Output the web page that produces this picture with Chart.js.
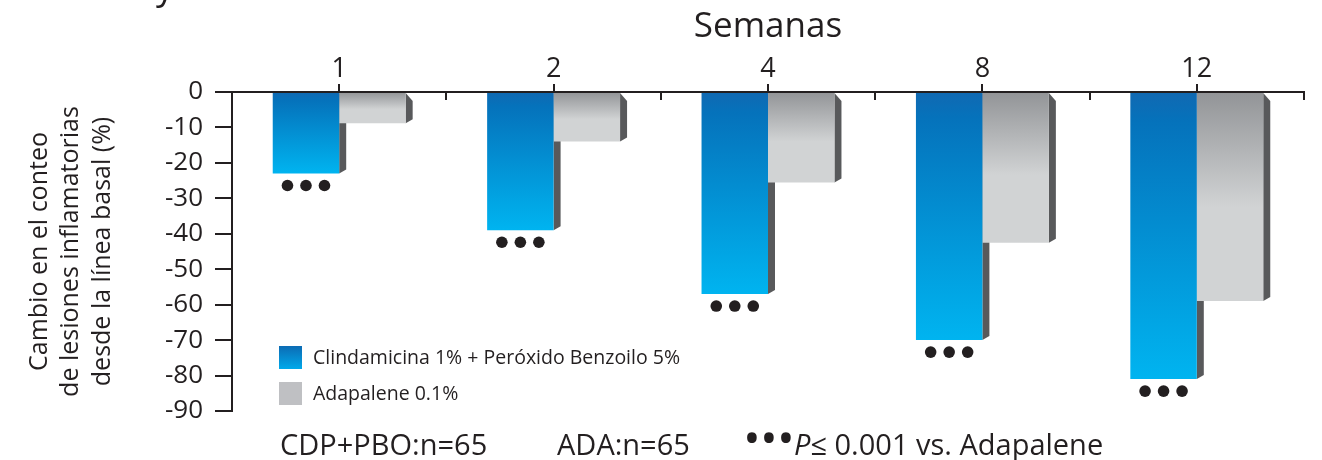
<!DOCTYPE html>
<html lang="es">
<head>
<meta charset="utf-8">
<title>Cambio en el conteo de lesiones inflamatorias</title>
<script src="https://cdn.jsdelivr.net/npm/chart.js@4.4.1/dist/chart.umd.min.js"></script>
<style>
  html, body { margin: 0; padding: 0; background: #ffffff; }
  #wrap { width: 1322px; height: 460px; }
</style>
</head>
<body>
<div id="wrap"><canvas id="chart" width="1322" height="460"></canvas></div>
<script>
// ---- data ----
const weeks = ['1', '2', '4', '8', '12'];
const clindaBpo = [-23, -39, -57, -70, -81];
const adapalene = [-8.8, -14, -25.5, -42.5, -59];
const sigDots = [3, 3, 3, 3, 3];           // ● markers under each CDP+PBO bar
const yMin = -90, yMax = 0, yStep = 10;
const seriesLabels = ['Clindamicina 1% + Peróxido Benzoilo 5%', 'Adapalene 0.1%'];
const xTitle = 'Semanas';
const yTitle = ['Cambio en el conteo', 'de lesiones inflamatorias', 'desde la línea basal (%)'];
const groupSizes = ['CDP+PBO:n=65', 'ADA:n=65'];
const pNote = ['P', '≤ 0.001 vs. Adapalene'];
const headFragment = 'y';

// ---- styling ----
const INK = '#231f20';
const FONT = "'Open Sans', sans-serif";
const SIDE = '#58595b';
const BLUE_STOPS = [[0, '#1169b2'], [0.1, '#0572bb'], [1, '#00b4f0']];
const GREY_STOPS = [[0, '#929497'], [0.55, '#d1d3d4'], [1, '#d1d3d4']];

function barGradient(c, stops) {
  const chart = c.chart;
  if (!chart.chartArea || c.type !== 'data') return stops[stops.length - 1][1];
  const y = chart.scales.y;
  const v = c.dataset.data[c.dataIndex];
  const g = chart.ctx.createLinearGradient(0, y.getPixelForValue(0), 0, y.getPixelForValue(v));
  stops.forEach(([o, col]) => g.addColorStop(o, col));
  return g;
}

// 3D side faces, drawn under the bars so the right-hand bar hides the part it covers
const barSides = {
  id: 'barSides',
  beforeDatasetsDraw(chart) {
    const ctx = chart.ctx;
    ctx.save();
    ctx.fillStyle = SIDE;
    chart.data.datasets.forEach((ds, i) => {
      chart.getDatasetMeta(i).data.forEach(bar => {
        const p = bar.getProps(['x', 'y', 'base', 'width'], true);
        const r = p.x + p.width / 2;
        const top = Math.min(p.y, p.base), bottom = Math.max(p.y, p.base);
        ctx.beginPath();
        ctx.moveTo(r, top);
        ctx.lineTo(r + 7, top + 8);
        ctx.lineTo(r + 7, bottom - 4);
        ctx.lineTo(r, bottom);
        ctx.closePath();
        ctx.fill();
      });
    });
    ctx.restore();
  }
};

// significance markers under the CDP+PBO bars
const sigMarks = {
  id: 'sigMarks',
  afterDatasetsDraw(chart) {
    const ctx = chart.ctx;
    ctx.save();
    ctx.fillStyle = INK;
    chart.getDatasetMeta(0).data.forEach((bar, i) => {
      const p = bar.getProps(['x', 'y'], true);
      const n = sigDots[i];
      for (let k = 0; k < n; k++) {
        const cx = p.x + (k - (n - 1) / 2) * 18.5;
        ctx.beginPath();
        ctx.arc(cx, p.y + 12, 5.8, 0, Math.PI * 2);
        ctx.fill();
      }
    });
    ctx.restore();
  }
};

// downward ticks between week groups on the top axis
const groupTicks = {
  id: 'groupTicks',
  afterDraw(chart) {
    const x = chart.scales.x, ctx = chart.ctx;
    const n = weeks.length, step = (x.right - x.left) / n;
    ctx.save();
    ctx.strokeStyle = INK;
    ctx.lineWidth = 2;
    for (let k = 1; k <= n; k++) {
      const px = Math.round(x.left + k * step);
      ctx.beginPath();
      ctx.moveTo(px, x.bottom);
      ctx.lineTo(px, x.bottom + 8);
      ctx.stroke();
    }
    ctx.restore();
  }
};

// legend box inside the plot, group sizes and p-value note along the bottom
const annotations = {
  id: 'annotations',
  afterDraw(chart) {
    const ctx = chart.ctx;
    ctx.save();
    // legend
    const sq = 23, lx = 279;
    const rows = [346, 382];
    const gb = ctx.createLinearGradient(0, rows[0], 0, rows[0] + sq);
    gb.addColorStop(0, '#0c6bb4'); gb.addColorStop(1, '#00a9ea');
    const fills = [gb, '#bfc0c3'];
    ctx.font = `19.5px ${FONT}`;
    ctx.textBaseline = 'middle';
    ctx.textAlign = 'left';
    rows.forEach((ry, i) => {
      ctx.fillStyle = fills[i];
      ctx.fillRect(lx, ry, sq, sq);
      ctx.fillStyle = INK;
      ctx.fillText(chart.data.datasets[i].label, 313, ry + sq / 2 + 1);
    });

    // bottom line
    const base = 455;
    ctx.textBaseline = 'alphabetic';
    ctx.fillStyle = INK;
    ctx.font = `29px ${FONT}`;
    ctx.fillText(groupSizes[0], 280, base);
    ctx.fillText(groupSizes[1], 557, base);
    ctx.font = `46px ${FONT}`;
    ctx.textAlign = 'center';
    [752, 769, 786].forEach(bx => ctx.fillText('•', bx, base - 1));
    ctx.textAlign = 'left';
    ctx.font = `italic 29px ${FONT}`;
    ctx.fillText(pNote[0], 794, base);
    const pw = ctx.measureText(pNote[0]).width;
    ctx.font = `29px ${FONT}`;
    ctx.fillText(pNote[1], 794 + pw, base);

    // tail of the heading line above the figure
    ctx.font = `36px ${FONT}`;
    ctx.fillText(headFragment, 156, -1);
    ctx.restore();
  }
};

new Chart(document.getElementById('chart'), {
  type: 'bar',
  data: {
    labels: weeks,
    datasets: [
      { label: seriesLabels[0], data: clindaBpo, backgroundColor: c => barGradient(c, BLUE_STOPS) },
      { label: seriesLabels[1], data: adapalene, backgroundColor: c => barGradient(c, GREY_STOPS) }
    ]
  },
  options: {
    responsive: false,
    animation: false,
    devicePixelRatio: 1,
    layout: { padding: { left: 0, top: 0, right: 18, bottom: 49 } },
    datasets: { bar: { categoryPercentage: 0.62, barPercentage: 1, borderWidth: 0 } },
    plugins: { legend: { display: false }, tooltip: { enabled: false }, title: { display: false } },
    scales: {
      x: {
        position: 'top',
        offset: true,
        z: 1,
        grid: { offset: false, drawOnChartArea: false, tickLength: 8, lineWidth: 2, color: INK },
        border: { display: true, color: INK, width: 2 },
        ticks: { color: INK, font: { family: FONT, size: 27, lineHeight: 1 }, padding: 1, maxRotation: 0 },
        title: { display: true, text: xTitle, color: INK, font: { family: FONT, size: 35, lineHeight: 1.2 }, padding: { top: 6, bottom: 0 } },
        afterFit: s => { s.height = 92; }
      },
      y: {
        min: yMin,
        max: yMax,
        z: 1,
        ticks: { stepSize: yStep, color: INK, font: { family: FONT, size: 26 }, padding: 12 },
        grid: { drawOnChartArea: false, tickLength: 17, lineWidth: 2, color: INK },
        border: { display: true, color: INK, width: 2 },
        title: { display: true, text: yTitle, color: INK, font: { family: FONT, size: 25, lineHeight: 1.26 }, padding: { top: 24, bottom: 0 } },
        afterFit: s => { s.width = 232; }
      }
    }
  },
  plugins: [barSides, sigMarks, groupTicks, annotations]
});
</script>
</body>
</html>
